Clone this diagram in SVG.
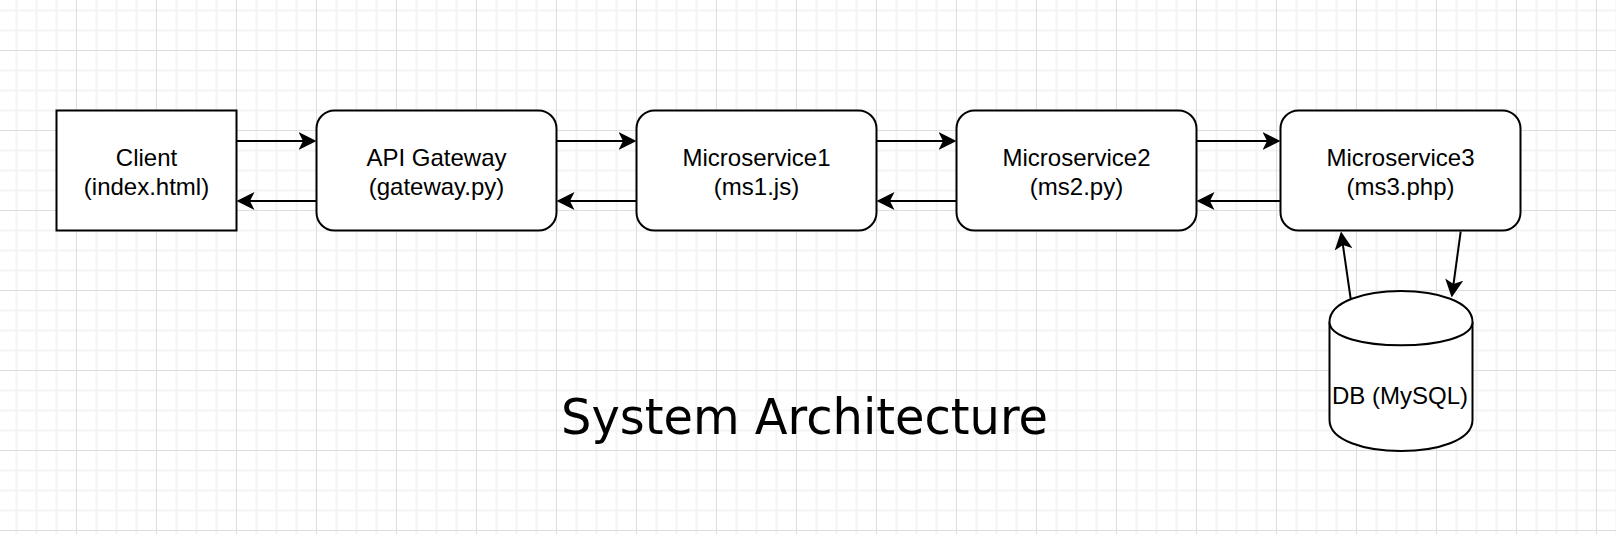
<svg xmlns="http://www.w3.org/2000/svg" width="1616" height="534" viewBox="0 0 1616 534">
  <defs>
    <pattern id="grid" patternUnits="userSpaceOnUse" x="76" y="50" width="80" height="80">
      <path d="M20.5,0 V80 M40.5,0 V80 M60.5,0 V80 M0,20.5 H80 M0,40.5 H80 M0,60.5 H80" stroke="#f4f4f4" stroke-width="2" fill="none"/>
      <path d="M0.5,0 V80 M0,0.5 H80" stroke="#dddddd" stroke-width="1" fill="none"/>
    </pattern>
    <marker id="arrow" markerUnits="userSpaceOnUse" viewBox="0 0 18 18" markerWidth="18" markerHeight="18" refX="4.5" refY="9" orient="auto">
      <path d="M0,0 L18,9 L0,18 L4.5,9 Z" fill="#000"/>
    </marker>
    <style>
      .box { fill: #fff; stroke: #000; stroke-width: 2; }
      .lbl { font-family: "Liberation Sans", Arial, Helvetica, sans-serif; font-size: 24px; fill: #000; text-anchor: middle; }
      .edge { fill: none; stroke: #000; stroke-width: 2; marker-end: url(#arrow); }
      .title { font-family: "DejaVu Sans", "Liberation Sans", sans-serif; font-size: 49px; fill: #000; }
    </style>
  </defs>

  <rect x="0" y="0" width="1616" height="534" fill="#fff"/>
  <rect x="0" y="0" width="1616" height="534" fill="url(#grid)"/>

  <g id="client">
    <rect class="box" x="56.5" y="110.5" width="180" height="120"/>
    <text class="lbl" x="146.5" y="166">Client</text>
    <text class="lbl" x="146.5" y="195">(index.html)</text>
  </g>

  <g id="gateway">
    <rect class="box" x="316.5" y="110.5" width="240" height="120" rx="18" ry="18"/>
    <text class="lbl" x="436.5" y="166">API Gateway</text>
    <text class="lbl" x="436.5" y="195">(gateway.py)</text>
  </g>

  <g id="ms1">
    <rect class="box" x="636.5" y="110.5" width="240" height="120" rx="18" ry="18"/>
    <text class="lbl" x="756.5" y="166">Microservice1</text>
    <text class="lbl" x="756.5" y="195">(ms1.js)</text>
  </g>

  <g id="ms2">
    <rect class="box" x="956.5" y="110.5" width="240" height="120" rx="18" ry="18"/>
    <text class="lbl" x="1076.5" y="166">Microservice2</text>
    <text class="lbl" x="1076.5" y="195">(ms2.py)</text>
  </g>

  <g id="ms3">
    <rect class="box" x="1280.5" y="110.5" width="240" height="120" rx="18" ry="18"/>
    <text class="lbl" x="1400.5" y="166">Microservice3</text>
    <text class="lbl" x="1400.5" y="195">(ms3.php)</text>
  </g>

  <g id="db">
    <path class="box" d="M1329.5,322 C1329.5,280.67 1472.5,280.67 1472.5,322 L1472.5,420 C1472.5,461.33 1329.5,461.33 1329.5,420 Z"/>
    <path class="box" fill="none" d="M1329.5,322 C1329.5,353 1472.5,353 1472.5,322"/>
    <text class="lbl" x="1400" y="404">DB (MySQL)</text>
  </g>

  <g id="connectors">
    <path class="edge" d="M236.5,141 H303"/>
    <path class="edge" d="M316.5,201 H250"/>
    <path class="edge" d="M556.5,141 H623"/>
    <path class="edge" d="M636.5,201 H570"/>
    <path class="edge" d="M876.5,141 H943"/>
    <path class="edge" d="M956.5,201 H890"/>
    <path class="edge" d="M1196.5,141 H1267"/>
    <path class="edge" d="M1280.5,201 H1210"/>
    <path class="edge" d="M1350.7,299 L1342.9,244.9"/>
    <path class="edge" d="M1460.7,231.5 L1453.5,284.1"/>
  </g>

  <g id="title">
    <text class="title" x="561" y="434" textLength="487" lengthAdjust="spacingAndGlyphs">System Architecture</text>
  </g>
</svg>
